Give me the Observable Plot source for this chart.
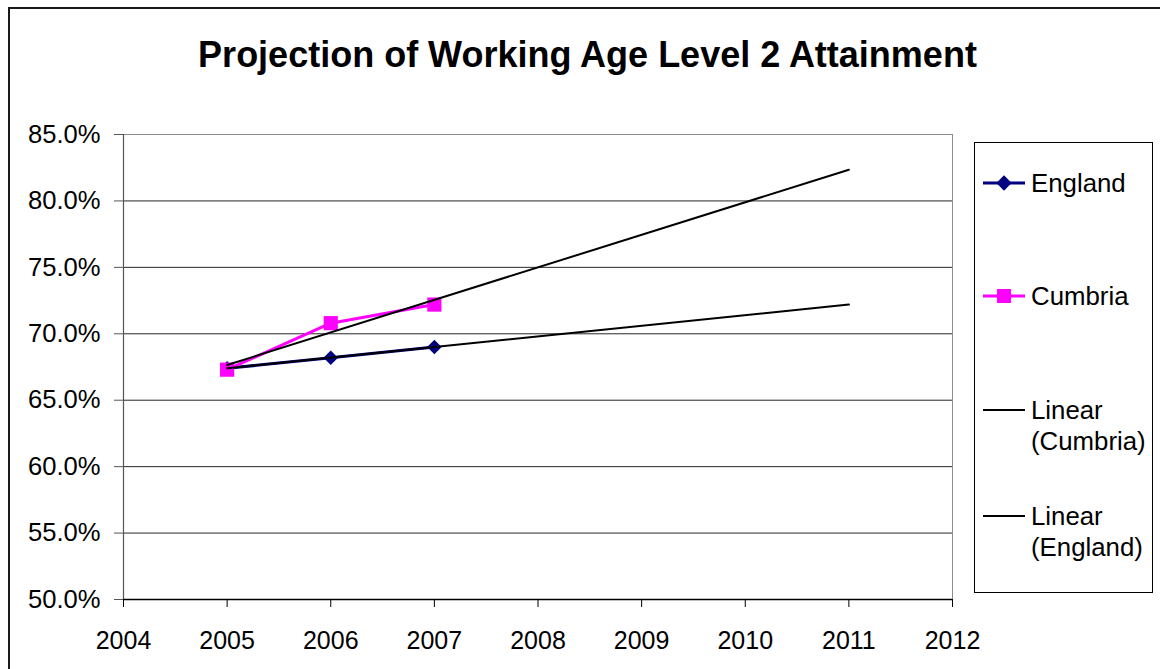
<!DOCTYPE html>
<html>
<head>
<meta charset="utf-8">
<script src="https://cdn.jsdelivr.net/npm/d3@7"></script>
<script src="https://cdn.jsdelivr.net/npm/@observablehq/plot@0.6"></script>
<style>
  html, body { margin: 0; padding: 0; background: #fff; overflow: hidden; }
  #chart { position: relative; width: 1160px; height: 669px; font-family: "Liberation Sans", Arial, sans-serif; }
  #border { position: absolute; left: 8px; top: 7px; width: 1300px; height: 800px; border: 2px solid #1a1a1a; box-sizing: border-box; }
  #title { position: absolute; left: 0; width: 1175px; top: 33px; text-align: center; font-weight: bold; font-size: 36px; line-height: 44px; color: #000; }
  #plot { position: absolute; left: 0; top: 0; }
  #legend { position: absolute; left: 974px; top: 142px; }
</style>
</head>
<body>
<div id="chart">
  <div id="border"></div>
  <div id="title"></div>
  <div id="plot"></div>
  <div id="legend"></div>
</div>
<script>
// Working age population qualified to Level 2 or above (%)
const titleText = "Projection of Working Age Level 2 Attainment";
const years = [2005, 2006, 2007];
const england = [67.4, 68.2, 69.0];
const cumbria = [67.3, 70.8, 72.2];
const projectionEnd = 2011;
const xTicks = [2004, 2005, 2006, 2007, 2008, 2009, 2010, 2011, 2012];
const yTicks = [50, 55, 60, 65, 70, 75, 80, 85];

const englandColor = "#000080";
const cumbriaColor = "#ff00ff";
const font = '"Liberation Sans", Arial, sans-serif';

// Least-squares trend, projected forward from the first year to projectionEnd
function linearTrend(xs, ys) {
  const mx = d3.mean(xs), my = d3.mean(ys);
  const slope = d3.sum(xs, (x, i) => (x - mx) * (ys[i] - my)) / d3.sum(xs, x => (x - mx) ** 2);
  const at = x => my + slope * (x - mx);
  return [xs[0], projectionEnd].map(x => ({year: x, value: at(x)}));
}

const englandRows = years.map((y, i) => ({year: y, value: england[i]}));
const cumbriaRows = years.map((y, i) => ({year: y, value: cumbria[i]}));
const cumbriaTrend = linearTrend(years, cumbria);
const englandTrend = linearTrend(years, england);

document.getElementById("title").textContent = titleText;

const chart = Plot.plot({
  width: 1160,
  height: 669,
  marginLeft: 123,
  marginRight: 208,
  marginTop: 134,
  marginBottom: 70,
  style: {fontFamily: font, fontSize: "25px", color: "#000", background: "transparent", overflow: "visible"},
  x: {domain: [2004, 2012]},
  y: {domain: [50, 85]},
  marks: [
    Plot.gridY(yTicks.filter(v => v > 50 && v < 85), {stroke: "#000", strokeOpacity: 0.85, strokeWidth: 1}),
    Plot.frame({stroke: "#8c8c8c", strokeWidth: 1}),
    Plot.ruleX([2004], {stroke: "#555", strokeWidth: 1.2}),
    Plot.ruleY([50], {stroke: "#000", strokeWidth: 1.5}),
    Plot.axisY(yTicks, {
      tickSize: 9, tickPadding: 14, stroke: "#555", fontSize: 25.6,
      tickFormat: d => d.toFixed(1) + "%", label: null, fill: "#000"
    }),
    Plot.axisX(xTicks, {
      tickSize: 8, tickPadding: 24, stroke: "#000",
      tickFormat: d => String(d), label: null, fill: "#000"
    }),
    Plot.line(englandRows, {x: "year", y: "value", stroke: englandColor, strokeWidth: 3}),
    Plot.line(cumbriaRows, {x: "year", y: "value", stroke: cumbriaColor, strokeWidth: 3}),
    Plot.dot(englandRows, {x: "year", y: "value", symbol: "diamond2", r: 6.5, fill: englandColor, stroke: "none"}),
    Plot.dot(cumbriaRows, {x: "year", y: "value", symbol: "square", r: 8, fill: cumbriaColor, stroke: "none"}),
    Plot.line(cumbriaTrend, {x: "year", y: "value", stroke: "#000", strokeWidth: 2}),
    Plot.line(englandTrend, {x: "year", y: "value", stroke: "#000", strokeWidth: 2})
  ]
});
document.getElementById("plot").append(chart);

// Legend box
const legendEntries = [
  {lines: ["England"], color: englandColor, width: 3, marker: "diamond", cy: 41},
  {lines: ["Cumbria"], color: cumbriaColor, width: 3, marker: "square", cy: 154},
  {lines: ["Linear", "(Cumbria)"], color: "#000", width: 2, marker: null, cy: 268},
  {lines: ["Linear", "(England)"], color: "#000", width: 2, marker: null, cy: 374}
];
const lsvg = d3.select("#legend").append("svg")
  .attr("width", 180).attr("height", 452)
  .style("font-family", font).style("font-size", "25.8px");
lsvg.append("rect").attr("x", 0.5).attr("y", 0.5).attr("width", 178).attr("height", 450)
  .attr("fill", "#fff").attr("stroke", "#000").attr("stroke-width", 1);
for (const e of legendEntries) {
  const g = lsvg.append("g");
  g.append("line").attr("x1", 9).attr("x2", 51).attr("y1", e.cy).attr("y2", e.cy)
    .attr("stroke", e.color).attr("stroke-width", e.width);
  if (e.marker === "diamond") {
    g.append("path").attr("d", d3.symbol(d3.symbolDiamond2, 150)()).attr("transform", `translate(30,${e.cy})`).attr("fill", e.color);
  } else if (e.marker === "square") {
    g.append("rect").attr("x", 23).attr("y", e.cy - 7).attr("width", 14).attr("height", 14).attr("fill", e.color);
  }
  const t = g.append("text").attr("x", 57).attr("y", e.cy + 9).attr("fill", "#000");
  e.lines.forEach((s, i) => t.append("tspan").attr("x", 57).attr("dy", i === 0 ? 0 : 31).text(s));
}
</script>
</body>
</html>
